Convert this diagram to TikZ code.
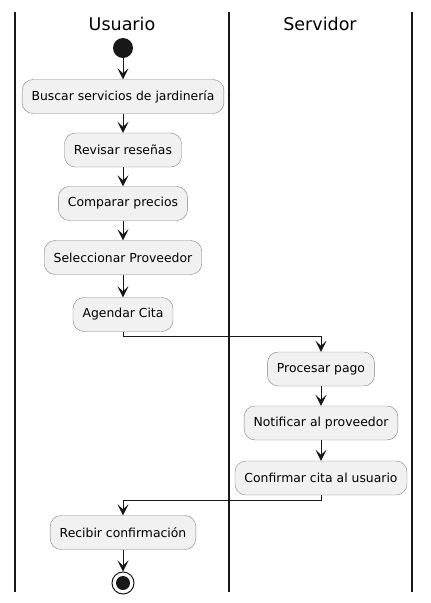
\documentclass[tikz,border=0pt]{standalone}
\usepackage{fontspec}
\setmainfont{DejaVu Sans}
\usetikzlibrary{arrows.meta,positioning}

\definecolor{actfill}{HTML}{F1F1F1}
\definecolor{actline}{HTML}{181818}
\definecolor{actborder}{HTML}{808080}

\tikzset{
  act/.style={draw=actborder, fill=actfill, rounded corners=11pt, minimum height=34pt,
    inner xsep=9.5pt, font=\fontsize{12.4}{14}\selectfont},
  flow/.style={draw=actline, line width=0.9pt, -{Stealth[length=11pt,width=11pt,inset=5pt]}},
  lane/.style={draw=actline, line width=1.4pt},
  lanehead/.style={font=\fontsize{17.5}{20}\selectfont},
  startdot/.style={circle, fill=actline, inner sep=0pt, minimum size=20pt}
}

\begin{document}
\begin{tikzpicture}[x=1pt,y=-1pt]
  \useasboundingbox (0,0) rectangle (431,603);

  % swimlanes
  \draw [lane] (15,12) -- (15,592);
  \draw [lane] (229,12) -- (229,592);
  \draw [lane] (412,12) -- (412,592);

  \node [lanehead] (usuario) at (122,24) {Usuario};
  \node [lanehead] (servidor) at (320,24) {Servidor};

  % Usuario
  \node [startdot] (start) at (123,48) {};
  \node [act] (buscar) at (123,96.5) {Buscar servicios de jardinería};
  \node [act] (revisar) at (123,150) {Revisar reseñas};
  \node [act] (comparar) at (123,203.5) {Comparar precios};
  \node [act] (seleccionar) at (123,257.5) {Seleccionar Proveedor};
  \node [act] (agendar) at (123,314.5) {Agendar Cita};

  % Servidor
  \node [act] (procesar) at (321,369) {Procesar pago};
  \node [act] (notificar) at (321,423) {Notificar al proveedor};
  \node [act] (confirmar) at (321,478) {Confirmar cita al usuario};

  % Usuario again
  \node [act] (recibir) at (123,532.5) {Recibir confirmación};
  \node [circle, draw=actline, line width=1pt, fill=white, minimum size=22pt, inner sep=0pt] (stop) at (123,583) {};
  \node [startdot, minimum size=14pt] (stopdot) at (stop) {};

  \draw [flow] (start) -- (buscar);
  \draw [flow] (buscar) -- (revisar);
  \draw [flow] (revisar) -- (comparar);
  \draw [flow] (comparar) -- (seleccionar);
  \draw [flow] (seleccionar) -- (agendar);
  \draw [flow] (agendar.south) -- ++(0,5) -| (procesar.north);
  \draw [flow] (procesar) -- (notificar);
  \draw [flow] (notificar) -- (confirmar);
  \draw [flow] (confirmar.south) -- ++(0,5) -| (recibir.north);
  \draw [flow] (recibir) -- (stop);
\end{tikzpicture}
\end{document}
